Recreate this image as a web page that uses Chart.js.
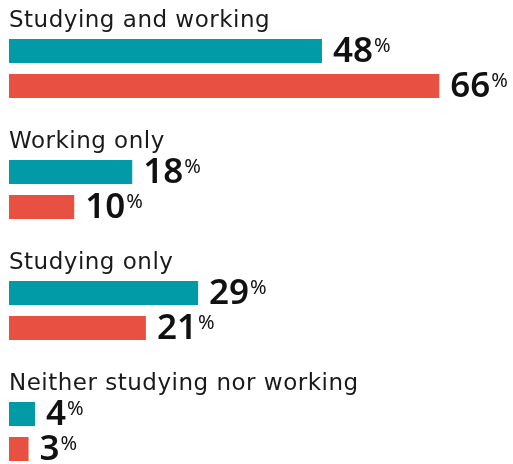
<!DOCTYPE html>
<html>
<head>
<meta charset="utf-8">
<script src="https://cdn.jsdelivr.net/npm/chart.js@4.4.0/dist/chart.umd.min.js"></script>
<style>
  html, body { margin: 0; padding: 0; background: #fff; }
  #wrap { width: 513px; height: 464px; position: relative; }
</style>
</head>
<body>
<div id="wrap"><canvas id="chart"></canvas></div>
<script>
// groups shown top to bottom
var groups = ["Studying and working", "Working only", "Studying only", "Neither studying nor working"];
// teal series and red series (bar lengths, %)
var tealValues = [48, 18.9, 29, 4];
var redValues = [66, 10, 21, 3];
// printed labels
var tealText = ["48", "18", "29", "4"];
var redText = ["66", "10", "21", "3"];

var TEAL = "#019ba7";
var RED = "#e85141";

// titles above each pair of bars, and the big number + small % after each bar
var labelPlugin = {
    id: "labelPlugin",
    afterDatasetsDraw: function(chart) {
        var ctx = chart.ctx;
        var yScale = chart.scales.y;
        ctx.save();
        ctx.fillStyle = "#1a1a1a";
        ctx.textBaseline = "alphabetic";
        ctx.textAlign = "left";
        ctx.font = "400 23px 'DejaVu Sans'";
        ctx.letterSpacing = "0.5px";
        for (var i = 0; i < groups.length; i++) {
            var cy = yScale.getPixelForTick(i);
            ctx.fillText(groups[i], 9, cy - 42);
        }
        ctx.letterSpacing = "0px";
        var texts = [tealText, redText];
        for (var d = 0; d < 2; d++) {
            var meta = chart.getDatasetMeta(d);
            meta.data.forEach(function(bar, i) {
                var x = bar.x + 11;
                ctx.fillStyle = "#111";
                ctx.font = "600 35px 'Noto Sans'";
                ctx.fillText(texts[d][i], x, bar.y + 11);
                var w = ctx.measureText(texts[d][i]).width;
                ctx.font = "400 20px 'Noto Sans'";
                ctx.fillText("%", x + w + 1, bar.y + 1);
            });
        }
        ctx.restore();
    }
};

var ctx_chart = document.getElementById("chart").getContext("2d");
var chart = new Chart(ctx_chart, {
    type: "bar",
    data: {
        labels: groups,
        datasets: [
            { data: tealValues, backgroundColor: TEAL, categoryPercentage: 0.5785, barPercentage: 0.686, clip: false },
            { data: redValues, backgroundColor: RED, categoryPercentage: 0.5785, barPercentage: 0.686, clip: false }
        ]
    },
    options: {
        indexAxis: "y",
        responsive: true,
        maintainAspectRatio: false,
        animation: false,
        layout: { padding: { left: 9, right: 47.6, top: 68.5, bottom: 32.5 } },
        scales: {
            x: { min: 0, max: 70, display: false, grid: { display: false } },
            y: { display: false, offset: false, grid: { display: false } }
        },
        plugins: { legend: { display: false }, tooltip: { enabled: false } }
    },
    plugins: [labelPlugin]
});
</script>
</body>
</html>
